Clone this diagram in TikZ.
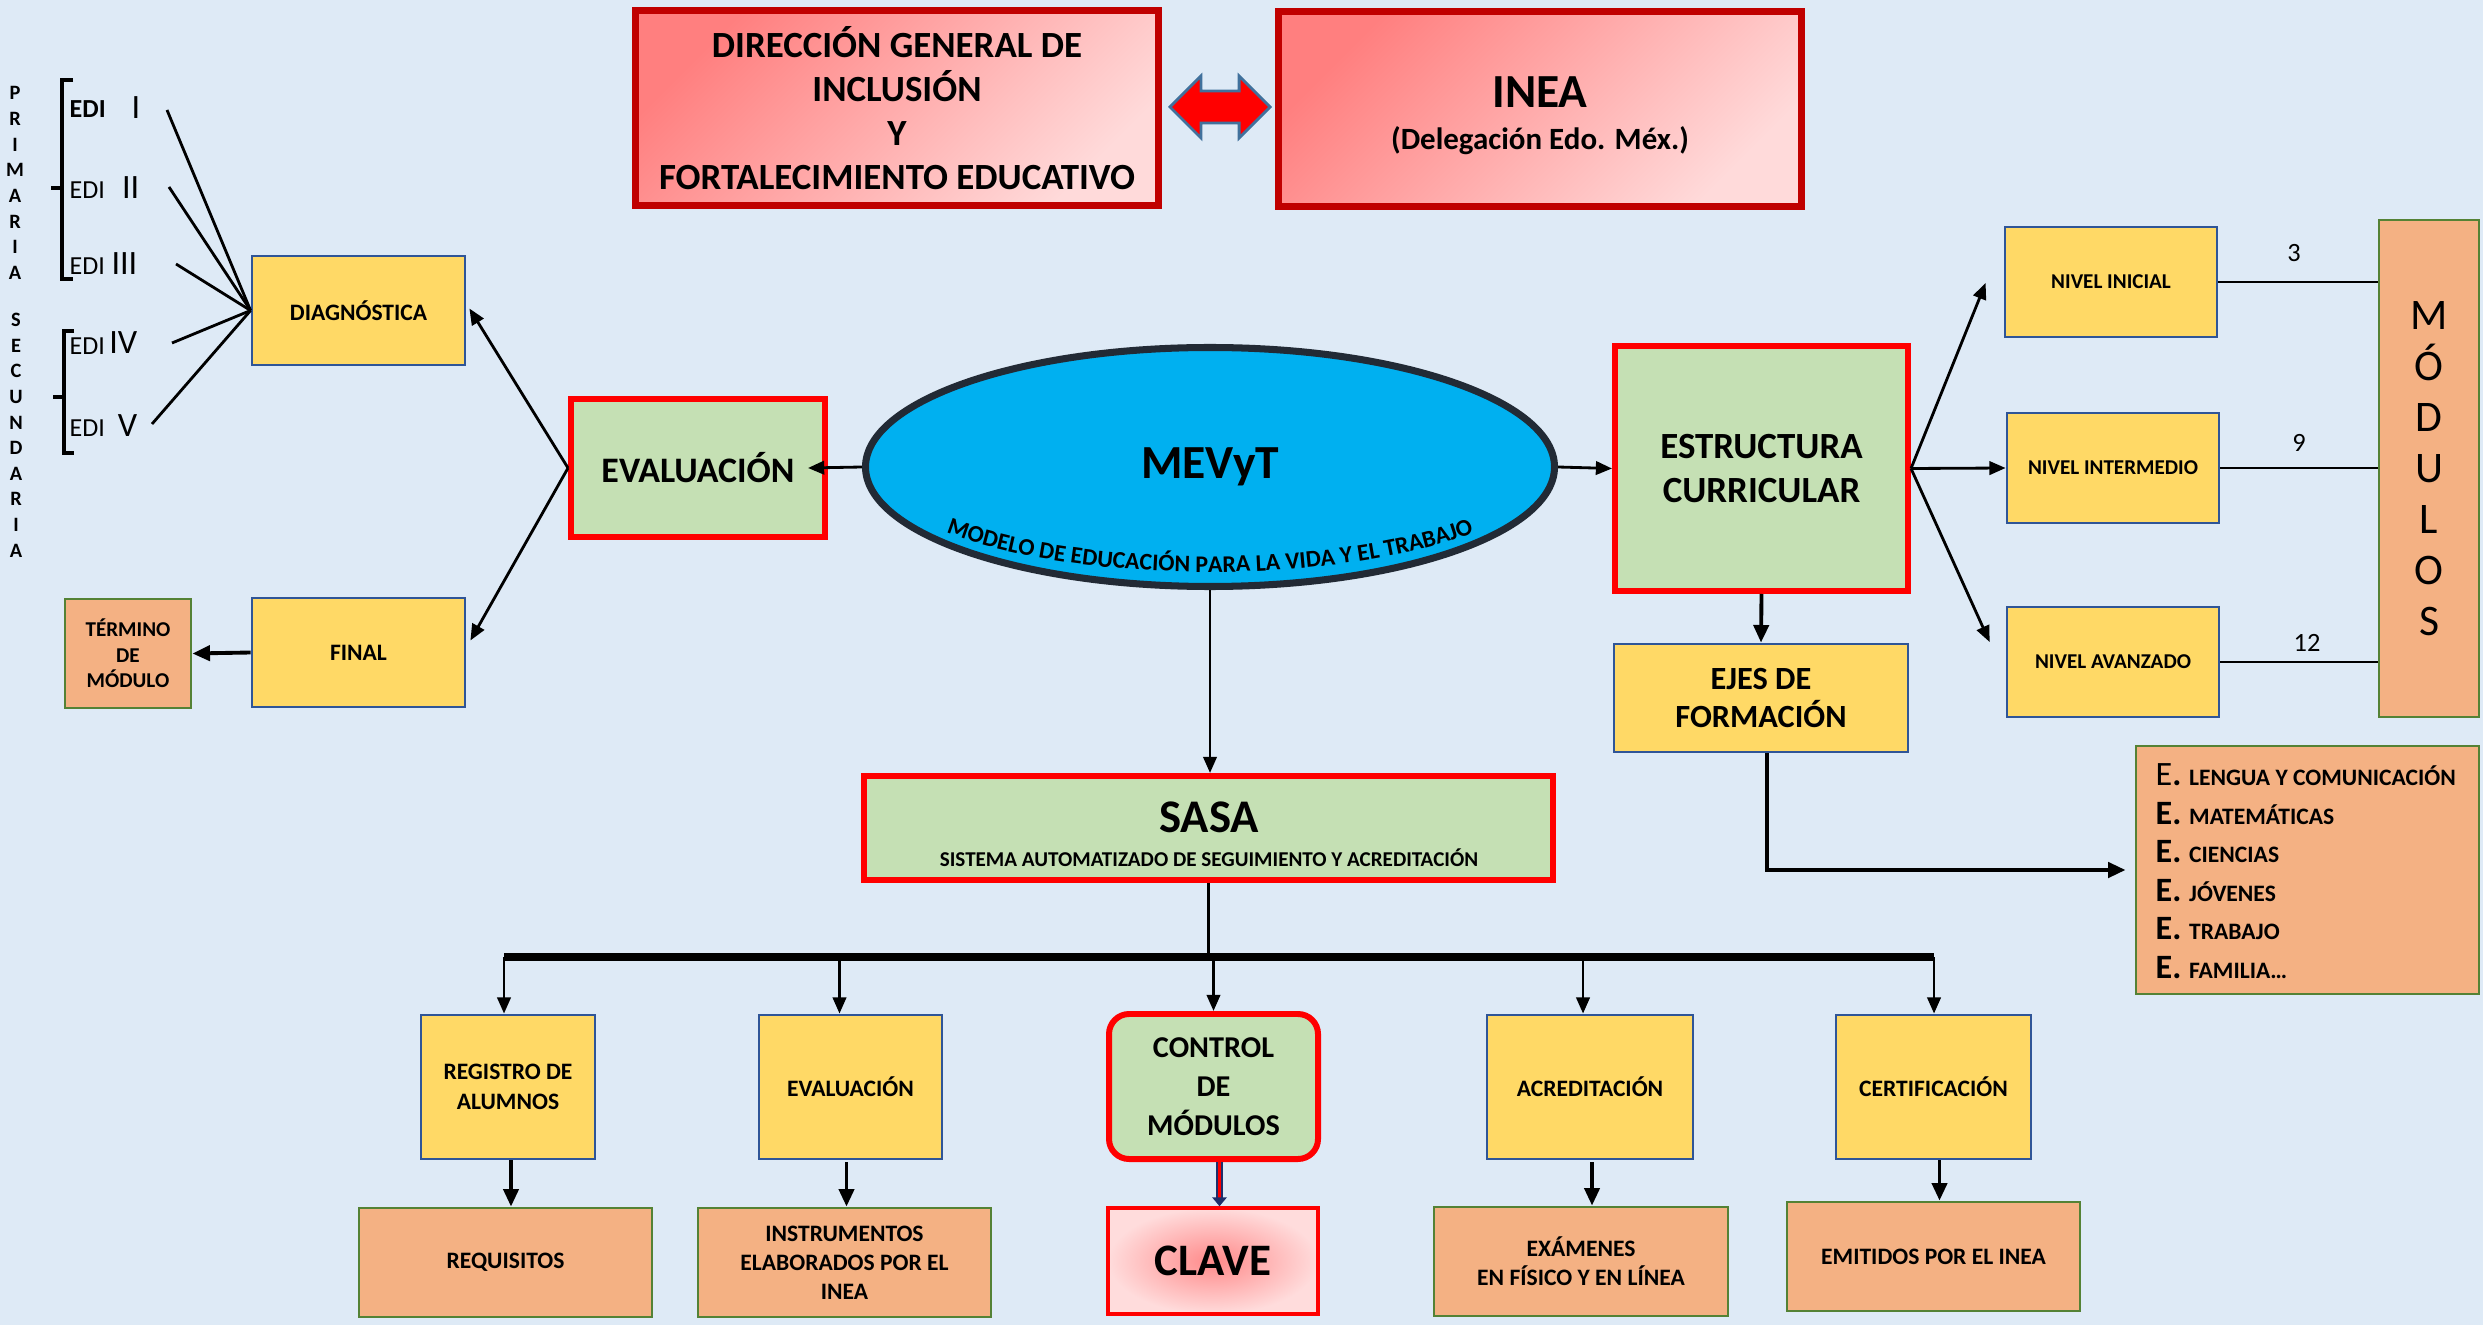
\documentclass[tikz,border=0pt]{standalone}
\usepackage{fontspec}
\setmainfont{Carlito}
\usetikzlibrary{shapes.geometric,shapes.arrows,arrows.meta,calc,decorations.text}
\definecolor{bg}{HTML}{DEEAF6}
\definecolor{ylw}{HTML}{FFD966}
\definecolor{ylwb}{HTML}{2F5597}
\definecolor{grn}{HTML}{C5E0B4}
\definecolor{org}{HTML}{F4B183}
\definecolor{orgb}{HTML}{548235}
\definecolor{dred}{HTML}{C00000}
\definecolor{sky}{HTML}{00B0F0}
\definecolor{skyb}{HTML}{222A35}
\definecolor{pinkA}{HTML}{FF7F7F}
\definecolor{pinkB}{HTML}{FFDADA}
\definecolor{claveA}{HTML}{FF8A8A}
\definecolor{claveB}{HTML}{FFDCDC}
\definecolor{arrb}{HTML}{41719C}
\definecolor{navyb}{HTML}{1F2F6B}
\newcommand{\bfs}[2]{\fontsize{#1}{#2}\selectfont\bfseries}
\newcommand{\rfs}[2]{\fontsize{#1}{#2}\selectfont}
\newcommand{\curvefont}{\fontsize{6.8}{8}\selectfont\bfseries}
\tikzset{
  base/.style={align=center, inner sep=0pt, text=black},
  sz/.style 2 args={minimum width=#1*0.01cm, minimum height=#2*0.01cm},
  ybox/.style={base, draw=ylwb, fill=ylw, line width=0.8pt},
  gbox/.style={base, draw=red, fill=grn, line width=1.7pt},
  obox/.style={base, draw=orgb, fill=org, line width=0.8pt},
  rbox/.style={base, draw=dred, line width=2pt, top color=pinkA, bottom color=pinkB, shading angle=45},
  conn/.style={line width=0.8pt, -{Triangle[length=4.6pt,width=3.8pt]}},
  conn2/.style={line width=1.1pt, -{Triangle[length=5pt,width=4.3pt]}},
  plain/.style={line width=0.8pt},
  brk/.style={line width=1.1pt},
  vl/.style={base, font=\bfs{5.8}{7}},
}
\begin{document}
\begin{tikzpicture}[x=0.01cm, y=-0.01cm]
\fill[bg] (0,0) rectangle (2483,1325);
\useasboundingbox (0,0) rectangle (2483,1325);

% top boxes
\node[rbox, sz={523}{195}, font=\bfs{10.5}{12.5}] (dgi) at (897,108)
  {DIRECCIÓN GENERAL DE\\INCLUSIÓN\\Y\\FORTALECIMIENTO EDUCATIVO};
\node[rbox, sz={523}{195}] (inea) at (1540,109) {};
\node[base, font=\bfs{13.5}{16}] (ineaT) at (1540,92) {INEA};
\node[base, font=\bfs{8.8}{10}] (ineaS) at (1540,141) {(Delegación Edo. Méx.)};
\node[double arrow, draw=arrb, fill=red, line width=0.8pt, inner xsep=0pt, inner ysep=0.145cm,
      minimum height=1cm, double arrow head extend=0.15cm] (dbl) at (1220,107) {};

% central ellipse
\node[ellipse, draw=skyb, fill=sky, line width=2pt, sz={689}{239}, inner sep=0pt, font=\bfs{13.5}{15}] (mev) at (1210,467) {MEVyT};
\path[decorate, decoration={text along path, text align=center,
   text={|\curvefont|MODELO DE EDUCACIÓN PARA LA VIDA Y EL TRABAJO}}]
   ($(mev.center)+(200:3.38cm and 1.05cm)$) arc[start angle=200, end angle=340, x radius=3.38cm, y radius=1.05cm];

% left part
\node[gbox, sz={254}{138}, font=\bfs{10.2}{12}] (ev) at (698,468) {EVALUACIÓN};
\node[ybox, sz={213}{109}, font=\bfs{6.7}{8}] (dg) at (358.5,310.5) {DIAGNÓSTICA};
\node[ybox, sz={213}{109}, font=\bfs{6.7}{8}] (fi) at (358.5,652.5) {FINAL};
\node[obox, sz={126}{109}, font=\bfs{6}{7.3}] (te) at (128,653.5) {TÉRMINO\\DE\\MÓDULO};

\draw[conn] (mev.west) -- ($(ev.east)+(-20,0)$);
\draw[conn] (ev.west) -- ($(dg.east)+(3,-2)$);
\draw[conn] (ev.west) -- ($(fi.east)+(4,-12)$);
\draw[conn2] (fi.west) -- (te.east);

% EDI labels
\node[base, anchor=west, font=\bfs{7.4}{9}] (edi1) at (69,109) {EDI};
\node[base, anchor=west, font=\rfs{7.4}{9}] (edi2) at (69,190) {EDI};
\node[base, anchor=west, font=\rfs{7.4}{9}] (edi3) at (69,266) {EDI};
\node[base, anchor=west, font=\rfs{7.4}{9}] (edi4) at (69,346) {EDI};
\node[base, anchor=west, font=\rfs{7.4}{9}] (edi5) at (69,428) {EDI};
\node[base, anchor=east, font=\rfs{9.7}{11}] (rom1) at (141,108) {I};
\node[base, anchor=east, font=\rfs{9.7}{11}] (rom2) at (140,188) {II};
\node[base, anchor=east, font=\rfs{9.7}{11}] (rom3) at (138,264) {III};
\node[base, anchor=east, font=\rfs{9.7}{11}] (rom4) at (138,343) {IV};
\node[base, anchor=east, font=\rfs{9.7}{11}] (rom5) at (138,426) {V};
\coordinate (s1) at (167,110);
\coordinate (s2) at (169,187);
\coordinate (s3) at (176,264);
\coordinate (s4) at (172,343);
\coordinate (s5) at (152,424);
\foreach \s in {s1,s2,s3,s4,s5} \draw[plain] (\s) -- (dg.west);
% brackets
\draw[brk] (73,80) -- (62,80) -- (62,279) -- (73,279);
\draw[brk] (62,188) -- (51,188);
\draw[brk] (74,331) -- (64,331) -- (64,453) -- (74,453);
\draw[brk] (64,397) -- (53,397);
% vertical words
\foreach \l [count=\i] in {P,R,I,M,A,R,I,A}
  \node[vl] (pr\i) at (15,{93+25.7*(\i-1)}) {\l};
\foreach \l [count=\i] in {S,E,C,U,N,D,A,R,I,A}
  \node[vl] (se\i) at (16,{320+25.6*(\i-1)}) {\l};

% right part
\node[gbox, sz={293}{245}, font=\bfs{10.5}{12.5}] (es) at (1761.5,468.5) {ESTRUCTURA\\CURRICULAR};
\node[ybox, sz={212}{110}, font=\bfs{6}{7}] (n1) at (2111,282) {NIVEL INICIAL};
\node[ybox, sz={212}{110}, font=\bfs{6}{7}] (n2) at (2113,468) {NIVEL INTERMEDIO};
\node[ybox, sz={212}{110}, font=\bfs{6}{7}] (n3) at (2113,662) {NIVEL AVANZADO};
\node[obox, sz={100}{497}, font=\rfs{12.4}{14.5}] (mo) at (2429,468.5) {M\\Ó\\D\\U\\L\\O\\S};
\node[ybox, sz={294}{108}, font=\bfs{9.2}{10.8}] (ej) at (1761,698) {EJES DE\\FORMACIÓN};
\node[obox, sz={343}{248}] (el) at (2307.5,870) {};
\node[base, align=left, anchor=west, font=\bfs{9.7}{10.95}] (elt) at (2155,871)
  {{\mdseries E}. {\bfs{6.7}{10.95}LENGUA Y COMUNICACIÓN}\\
   E. {\bfs{6.7}{10.95}MATEMÁTICAS}\\
   E. {\bfs{6.7}{10.95}CIENCIAS}\\
   E. {\bfs{6.7}{10.95}JÓVENES}\\
   E. {\bfs{6.7}{10.95}TRABAJO}\\
   E. {\bfs{6.7}{10.95}FAMILIA…}};

\draw[conn] (mev.east) -- (es.west);
\draw[conn] (es.east) -- ($(n1.west)+(-18,1)$);
\draw[conn] (es.east) -- (n2.west);
\draw[conn] (es.east) -- ($(n3.west)+(-16,-20)$);
\draw[conn2] (es.south) -- (ej.north);
\draw[line width=1.2pt, -{Triangle[length=5pt,width=4.3pt]}] ($(ej.south)+(6,0)$) |- ($(el.west)+(-9,0)$);
\draw[plain] (n1.east) -- (n1.east -| mo.west);
\draw[plain] (n2.east) -- (n2.east -| mo.west);
\draw[plain] (n3.east) -- (n3.east -| mo.west);
\node[base, font=\rfs{7.5}{9}] (k1) at (2294,253) {3};
\node[base, font=\rfs{7.5}{9}] (k2) at (2299,443) {9};
\node[base, font=\rfs{7.5}{9}] (k3) at (2307,643) {12};

% SASA
\node[gbox, sz={689}{104}] (sa) at (1208.5,828) {};
\node[base, font=\bfs{13.3}{15}] (saT) at (1209,817) {SASA};
\node[base, font=\bfs{6}{7}] (saS) at (1209,858) {SISTEMA AUTOMATIZADO DE SEGUIMIENTO Y ACREDITACIÓN};
\draw[conn] (mev.south) -- (mev.south |- sa.north);

% middle row
\node[ybox, sz={174}{144}, font=\bfs{6.7}{8.5}] (rg) at (508,1087) {REGISTRO DE\\ALUMNOS};
\node[ybox, sz={183}{144}, font=\bfs{6.7}{8.5}] (ev2) at (850.5,1087) {EVALUACIÓN};
\node[gbox, sz={209}{145}, rounded corners=0.2cm, font=\bfs{8.6}{11}] (ct) at (1213.5,1086.5) {CONTROL\\DE\\MÓDULOS};
\node[ybox, sz={206}{144}, font=\bfs{6.7}{8.5}] (ac) at (1590,1087) {ACREDITACIÓN};
\node[ybox, sz={195}{144}, font=\bfs{6.7}{8.5}] (ce) at (1933.5,1087) {CERTIFICACIÓN};

\coordinate (bL) at (504,957);
\coordinate (bR) at (1934,957);
\draw[line width=1pt] (sa.south) -- (sa.south |- bL);
\draw[line width=2pt] (bL) -- (bR);
\draw[conn] (bL) -- (bL |- rg.north);
\draw[conn] ($(ev2.north |- bL)+(-11,0)$) -- ($(ev2.north)+(-11,0)$);
\draw[conn] (ct.north |- bL) -- (ct.north);
\draw[conn] ($(ac.north |- bL)+(-7,0)$) -- ($(ac.north)+(-7,0)$);
\draw[conn] (bR) -- (bR |- ce.north);

% bottom row
\node[obox, sz={293}{109}, font=\bfs{6.7}{8.2}] (rq) at (505.5,1262.5) {REQUISITOS};
\node[obox, sz={293}{109}, font=\bfs{6.7}{8.2}] (ins) at (844.5,1262.5) {INSTRUMENTOS\\ELABORADOS POR EL\\INEA};
\node[base, draw=red, line width=1pt, inner color=claveA, outer color=claveB, sz={210}{106}, font=\bfs{12.8}{15}] (cl) at (1213,1261) {CLAVE};
\node[obox, sz={294}{109}, font=\bfs{6.7}{8.2}] (ex) at (1581,1261.5) {EXÁMENES\\EN FÍSICO Y EN LÍNEA};
\node[obox, sz={293}{109}, font=\bfs{6.7}{8.2}] (em) at (1933.5,1256.5) {EMITIDOS POR EL INEA};

\draw[conn2] ($(rg.south)+(3,0)$) -- ($(rg.south |- rq.north)+(3,0)$);
\draw[conn2] ($(ev2.south)+(-4,2)$) -- ($(ev2.south |- ins.north)+(-4,0)$);
\draw[conn2] ($(ac.south)+(2,2)$) -- ($(ac.south |- ex.north)+(2,0)$);
\draw[conn2] ($(ce.south)+(6,0)$) -- ($(ce.south |- em.north)+(6,0)$);
% control -> clave (outlined arrow)
\coordinate (cT) at ($(ct.south)+(6,0)$);
\coordinate (cB) at (cT |- cl.north);
\fill[navyb] ($(cT)+(-3.2,0)$) rectangle ($(cB)+(3.2,-8)$);
\fill[red] ($(cT)+(-1.1,0)$) rectangle ($(cB)+(1.1,-8)$);
\fill[navyb] ($(cB)+(-7.5,-9)$) -- ($(cB)+(7.5,-9)$) -- (cB) -- cycle;
\end{tikzpicture}
\end{document}
